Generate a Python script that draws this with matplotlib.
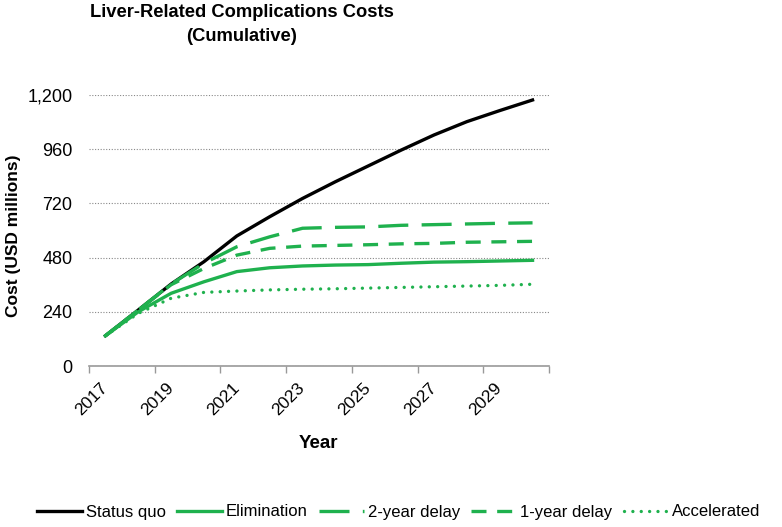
import matplotlib
matplotlib.use("Agg")
import matplotlib.pyplot as plt
from matplotlib.ticker import FixedLocator, NullFormatter, FuncFormatter

plt.rcParams["font.family"] = ["Liberation Sans", "DejaVu Sans"]

# ── data (USD millions, cumulative) ─────────────────────────────────────────
years = list(range(2017, 2031))
status_quo = [134, 248, 363, 462, 576, 661, 742, 816, 886, 956, 1023, 1082, 1131, 1178]
elimination = [134, 240, 322, 373, 418, 435, 443, 447, 449, 455, 460, 462, 465, 468]
delay_2yr = [134, 248, 363, 455, 528, 572, 610, 614, 616, 623, 626, 629, 632, 634]
delay_1yr = [134, 248, 360, 432, 491, 521, 531, 534, 537, 541, 543, 548, 550, 552]
accelerated = [134, 233, 300, 326, 332, 337, 340, 342, 345, 348, 351, 354, 357, 362]

GREEN = "#1fb14e"

fig = plt.figure(figsize=(7.82, 5.27), dpi=100)
ax = fig.add_axes([0.1138, 0.3055, 0.5882, 0.5142])

x = list(range(len(years)))
lw = 2.4
ax.plot(x, status_quo, color="black", lw=lw, label="Status quo", zorder=3)
ax.plot(x, elimination, color=GREEN, lw=lw, label="Elimination", zorder=4)
ax.plot(x, delay_2yr, color=GREEN, lw=lw, ls=(0, (9, 4)), label="2-year delay", zorder=4)
ax.plot(x, delay_1yr, color=GREEN, lw=lw, ls=(0, (4.5, 3.2)), label="1-year delay", zorder=4)
ax.plot(x, accelerated, color=GREEN, lw=lw, ls=(0, (0.01, 2.5)),
        dash_capstyle="round", label="Accelerated", zorder=4)

# ── axes ───────────────────────────────────────────────────────────────────
ax.set_xlim(-0.5, len(years) - 0.5)
ax.set_ylim(0, 1200)
ax.set_yticks(range(0, 1201, 240))
ax.yaxis.set_major_formatter(FuncFormatter(lambda v, p: f"{int(v):,}"))
ax.grid(axis="y", color="#888888", ls=(0, (1, 1.5)), lw=0.8)
ax.set_axisbelow(True)

ax.xaxis.set_major_locator(FixedLocator([i - 0.5 for i in range(0, len(years) + 1, 2)]))
ax.xaxis.set_major_formatter(NullFormatter())
ax.xaxis.set_minor_locator(FixedLocator(x[::2]))
ax.set_xticklabels([str(y) for y in years[::2]], minor=True, rotation=45,
                   ha="right", va="center", rotation_mode="anchor", fontsize=12.5)
ax.tick_params(axis="x", which="major", length=5, color="#999999", width=1)
ax.tick_params(axis="x", which="minor", length=0, pad=14)
ax.tick_params(axis="y", length=0, labelsize=13, pad=12)

for s in ["top", "right", "left"]:
    ax.spines[s].set_visible(False)
ax.spines["bottom"].set_color("#999999")
ax.spines["bottom"].set_linewidth(1.2)

ax.set_ylabel("Cost (USD millions)", fontsize=12.5, fontweight="bold")
ax.yaxis.set_label_coords(-0.148, 0.48)
ax.set_xlabel("Year", fontsize=13.5, fontweight="bold")
ax.xaxis.set_label_coords(0.498, -0.255)

fig.text(242 / 782, 1 - 24.5 / 527, "Liver-Related Complications Costs\n(Cumulative)",
         ha="center", va="center", fontsize=13.2, fontweight="bold", linespacing=1.5)

fig.legend(loc="center", bbox_to_anchor=(0.51, 1 - 512 / 527), ncol=5, frameon=False,
           fontsize=12, handlelength=2.7, handletextpad=0.2, columnspacing=0.7,
           borderaxespad=0, borderpad=0)

fig.savefig("out.png", dpi=100)
